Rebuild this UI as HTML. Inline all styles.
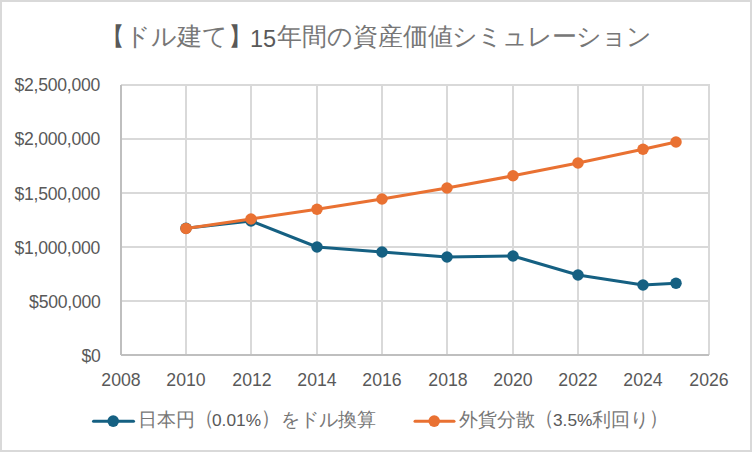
<!DOCTYPE html>
<html lang="ja">
<head>
<meta charset="utf-8">
<style>
html,body{margin:0;padding:0;background:#fff;}
body{width:752px;height:452px;position:relative;overflow:hidden;font-family:"Liberation Sans",sans-serif;color:#595959;}
#frame{position:absolute;left:0;top:0;width:752px;height:452px;box-sizing:border-box;border:2px solid #d9d9d9;}
.t{position:absolute;top:21px;font-size:25px;letter-spacing:0px;color:#777;line-height:30px;white-space:nowrap;}
.bk{color:#595959;}
.t15{position:absolute;top:23.5px;font-size:23.5px;line-height:30px;white-space:nowrap;}
.yl{position:absolute;right:652px;font-size:17.6px;letter-spacing:-0.25px;line-height:20px;text-align:right;white-space:nowrap;}
.xl{position:absolute;width:60px;font-size:17.7px;line-height:20px;text-align:center;top:370px;}
.lg{position:absolute;top:408px;font-size:19px;letter-spacing:0px;color:#777;line-height:24px;white-space:nowrap;}
.pr{display:inline-block;transform:translateY(-1.8px) scaleY(1.1);}
.lgn{position:absolute;top:408px;font-size:17.3px;line-height:24px;white-space:nowrap;}
svg{position:absolute;left:0;top:0;}
</style>
</head>
<body>
<div id="frame"></div>
<svg width="752" height="452" viewBox="0 0 752 452">
  <g stroke="#d9d9d9" stroke-width="2" fill="none">
    <line x1="121" y1="85" x2="710" y2="85"/>
    <line x1="121" y1="139" x2="710" y2="139"/>
    <line x1="121" y1="193" x2="710" y2="193"/>
    <line x1="121" y1="247" x2="710" y2="247"/>
    <line x1="121" y1="301" x2="710" y2="301"/>
    <line x1="186" y1="84" x2="186" y2="355"/>
    <line x1="251" y1="84" x2="251" y2="355"/>
    <line x1="317" y1="84" x2="317" y2="355"/>
    <line x1="382" y1="84" x2="382" y2="355"/>
    <line x1="447" y1="84" x2="447" y2="355"/>
    <line x1="513" y1="84" x2="513" y2="355"/>
    <line x1="578" y1="84" x2="578" y2="355"/>
    <line x1="643" y1="84" x2="643" y2="355"/>
    <line x1="709" y1="84" x2="709" y2="355"/>
  </g>
  <g stroke="#bfbfbf" stroke-width="2" fill="none">
    <line x1="121" y1="85" x2="121" y2="355"/>
    <line x1="121" y1="355" x2="709" y2="355"/>
  </g>
  <polyline fill="none" stroke="#156082" stroke-width="3" stroke-linejoin="round" stroke-linecap="round"
    points="186,228.3 251,221 317,247 382,252 447,257 513,256 578,275 643,285 676,283.2"/>
  <g fill="#156082">
    <circle cx="186" cy="228.3" r="5.75"/><circle cx="251" cy="221" r="5.75"/><circle cx="317" cy="247" r="5.75"/>
    <circle cx="382" cy="252" r="5.75"/><circle cx="447" cy="257" r="5.75"/><circle cx="513" cy="256" r="5.75"/>
    <circle cx="578" cy="275" r="5.75"/><circle cx="643" cy="285" r="5.75"/><circle cx="676" cy="283.2" r="5.75"/>
  </g>
  <polyline fill="none" stroke="#E97132" stroke-width="3" stroke-linejoin="round" stroke-linecap="round"
    points="186,228.4 251,219 317,209.2 382,199 447,188 513,175.8 578,163 643,149.3 676,142"/>
  <g fill="#E97132">
    <circle cx="186" cy="228.4" r="5.75"/><circle cx="251" cy="219" r="5.75"/><circle cx="317" cy="209.2" r="5.75"/>
    <circle cx="382" cy="199" r="5.75"/><circle cx="447" cy="188" r="5.75"/><circle cx="513" cy="175.8" r="5.75"/>
    <circle cx="578" cy="163" r="5.75"/><circle cx="643" cy="149.3" r="5.75"/><circle cx="676" cy="142" r="5.75"/>
  </g>
  <!-- legend markers -->
  <line x1="93.5" y1="421.3" x2="133.5" y2="421.3" stroke="#156082" stroke-width="3" stroke-linecap="round"/>
  <circle cx="113.2" cy="421.1" r="5.8" fill="#156082"/>
  <line x1="415" y1="421.2" x2="454" y2="421.2" stroke="#E97132" stroke-width="3" stroke-linecap="round"/>
  <circle cx="434.2" cy="421.1" r="5.8" fill="#E97132"/>
</svg>
<div class="t" style="left:100px"><span class="bk">【</span>ドル建て<span class="bk">】</span></div>
<div class="t15" style="left:250px">15</div>
<div class="t" style="left:277px">年間の資産価値</div>
<div class="t" style="left:452px;letter-spacing:-0.95px">シミュレーション</div>
<div class="yl" style="top:75px">$2,500,000</div>
<div class="yl" style="top:129px">$2,000,000</div>
<div class="yl" style="top:184px">$1,500,000</div>
<div class="yl" style="top:238px">$1,000,000</div>
<div class="yl" style="top:292px;right:651.5px">$500,000</div>
<div class="yl" style="top:346px;right:651.5px">$0</div>
<div class="xl" style="left:91px">2008</div>
<div class="xl" style="left:156px">2010</div>
<div class="xl" style="left:222px">2012</div>
<div class="xl" style="left:287px">2014</div>
<div class="xl" style="left:352px">2016</div>
<div class="xl" style="left:418px">2018</div>
<div class="xl" style="left:483px">2020</div>
<div class="xl" style="left:548px">2022</div>
<div class="xl" style="left:613px">2024</div>
<div class="xl" style="left:679px">2026</div>
<div class="lg" style="left:137.5px">日本円<span class="pr">（</span></div>
<div class="lgn" style="left:212px">0.01%</div>
<div class="lg" style="left:262px"><span class="pr" style="transform:translate(-1.5px,-1.8px) scaleY(1.1)">）</span>をドル換算</div>
<div class="lg" style="left:459px">外貨分散<span class="pr">（</span></div>
<div class="lgn" style="left:553px">3.5%</div>
<div class="lg" style="left:592px">利回り<span class="pr">）</span></div>
</body>
</html>
